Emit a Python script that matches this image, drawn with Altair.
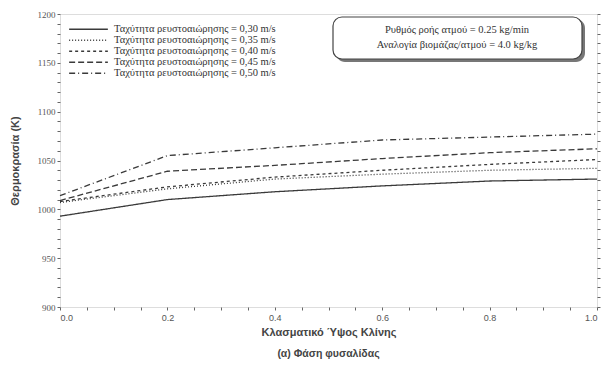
import altair as alt
import pandas as pd

x_vals = [0.0, 0.2, 0.4, 0.6, 0.8, 1.0]
series_names = [
    "Ταχύτητα ρευστοαιώρησης = 0,30 m/s",
    "Ταχύτητα ρευστοαιώρησης = 0,35 m/s",
    "Ταχύτητα ρευστοαιώρησης = 0,40 m/s",
    "Ταχύτητα ρευστοαιώρησης = 0,45 m/s",
    "Ταχύτητα ρευστοαιώρησης = 0,50 m/s",
]
t_030 = [993, 1010, 1018, 1024, 1029, 1031]
t_035 = [1007, 1021, 1031, 1036, 1040, 1042]
t_040 = [1008, 1023, 1033, 1040, 1046, 1051]
t_045 = [1009, 1039, 1045, 1052, 1058, 1062]
t_050 = [1014, 1055, 1063, 1071, 1074, 1077]
series_vals = [t_030, t_035, t_040, t_045, t_050]
dashes = [[1, 0], [1, 2], [3, 3], [6, 3], [6, 3, 1, 3]]

note_lines = ["Ρυθμός ροής ατμού = 0.25 kg/min", "Αναλογία βιομάζας/ατμού = 4.0 kg/kg"]

y_ticks = list(range(900, 1201, 10))
x_ticks = [round(i * 0.05, 2) for i in range(21)]

rows = []
for name, vals in zip(series_names, series_vals):
    for xv, yv in zip(x_vals, vals):
        rows.append({"x": xv, "T": yv, "series": name})
df = pd.DataFrame(rows)
one = pd.DataFrame({"n1": [note_lines[0]], "n2": [note_lines[1]]})

ink = "#3a3a3a"
xscale = alt.Scale(domain=[0, 1], nice=False)
yscale = alt.Scale(domain=[900, 1200], nice=False)

lines = alt.Chart(df).mark_line(color=ink, strokeWidth=1.3).encode(
    x=alt.X("x:Q", scale=xscale,
            axis=alt.Axis(values=x_ticks, title="Κλασματικό Ύψος Κλίνης",
                          labelExpr="(round(datum.value*100) % 20 === 0) ? format(datum.value, '.1f') : ''",
                          labelFont="Liberation Sans", labelFontSize=9, labelColor="#555",
                          titleFont="Liberation Sans", titleFontSize=11, titleFontWeight="bold",
                          titleColor="#444", titlePadding=4,
                          tickSize=3, tickColor="#666", domain=False, grid=False,
                          labelPadding=3)),
    y=alt.Y("T:Q", scale=yscale,
            axis=alt.Axis(values=y_ticks, title="Θερμοκρασία (K)",
                          labelExpr="datum.value % 50 === 0 ? datum.value : ''",
                          labelFont="Liberation Serif", labelFontSize=9, labelColor="#555",
                          titleFont="Liberation Sans", titleFontSize=11, titleFontWeight="bold",
                          titleColor="#444", titlePadding=17,
                          tickSize=3, tickColor="#666", domain=False, grid=False)),
    strokeDash=alt.StrokeDash("series:N", scale=alt.Scale(domain=series_names, range=dashes),
                              legend=alt.Legend(title=None, orient="none", legendX=8, legendY=10,
                                                symbolType="stroke", symbolSize=1500,
                                                symbolStrokeColor=ink, symbolStrokeWidth=1.3,
                                                clipHeight=10.5, labelLimit=400,
                                                labelFont="Liberation Serif", labelFontSize=10.5,
                                                labelColor="#333", rowPadding=0, labelOffset=5)),
    order=alt.Order("x:Q"),
)

right_axis = alt.Chart(df).mark_point(opacity=0).encode(
    y=alt.Y("T:Q", scale=yscale,
            axis=alt.Axis(orient="right", values=y_ticks, labels=False, title=None,
                          tickSize=3, tickColor="#666", domain=False, grid=False)),
)

box_shadow = alt.Chart(one).mark_rect(cornerRadius=9, fill="#777").encode(
    x=alt.value(276), x2=alt.value(525), y=alt.value(5), y2=alt.value(48))
box = alt.Chart(one).mark_rect(cornerRadius=9, fill="white", stroke="#444", strokeWidth=1.2).encode(
    x=alt.value(273), x2=alt.value(522), y=alt.value(3), y2=alt.value(45))
note1 = alt.Chart(one).mark_text(font="Liberation Serif", fontSize=10.5, color="#333").encode(
    x=alt.value(397), y=alt.value(16), text="n1:N")
note2 = alt.Chart(one).mark_text(font="Liberation Serif", fontSize=10.5, color="#333").encode(
    x=alt.value(397), y=alt.value(31), text="n2:N")

chart = alt.layer(lines, right_axis, box_shadow, box, note1, note2).resolve_axis(
    y="independent").resolve_scale(y="shared").properties(
    width=537, height=293,
    autosize=alt.AutoSizeParams(type="none"),
    padding={"left": 60, "top": 14, "right": 10, "bottom": 60},
    title=alt.TitleParams("(α) Φάση φυσαλίδας", orient="bottom", font="Liberation Sans",
                          fontSize=10.5, fontWeight="bold", color="#444", offset=12),
).configure_view(stroke="#555", strokeWidth=1.2).configure(background="white")

chart.save("out.html", embed_options={"renderer": "svg", "actions": False})
